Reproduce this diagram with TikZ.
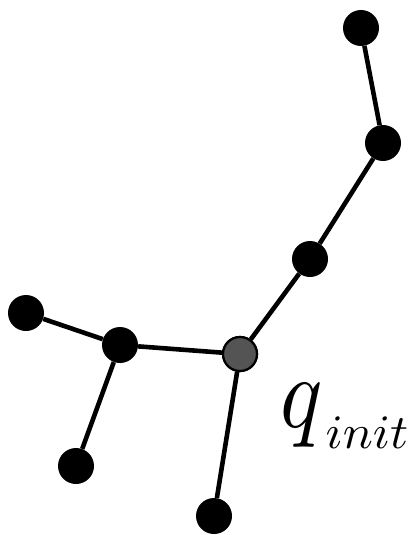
\documentclass[tikz,border=0pt]{standalone}
\usepackage{graphicx}
\begin{document}
\begin{tikzpicture}[x=1pt,y=-1pt,
  vtx/.style={circle,fill=black,inner sep=0pt,minimum size=36pt},
  start/.style={circle,fill=black!67,draw=black,line width=2.2pt,inner sep=0pt,minimum size=34pt},
  edge/.style={line width=4.6pt}]
\useasboundingbox (0,0) rectangle (418,535);
\node[vtx] (a) at (361,28) {};
\node[vtx] (b) at (383,143) {};
\node[vtx] (c) at (310,259) {};
\node[vtx] (e) at (120,345) {};
\node[vtx] (f) at (26,313) {};
\node[vtx] (g) at (76,466) {};
\node[vtx] (h) at (214,516) {};
\node[start] (s) at (240,354) {};
\draw[edge] (a) -- (b) -- (c) -- (s) -- (e) -- (f);
\draw[edge] (e) -- (g);
\draw[edge] (s) -- (h);
\node[start] at (s) {};
\node[anchor=base west,inner sep=0pt] (lbl) at (280,427)
  {\scalebox{8.8}[10.2]{$q$}\hspace{3pt}\raisebox{-21pt}{\scalebox{5.0}[4.8]{$init$}}};
\end{tikzpicture}
\end{document}
